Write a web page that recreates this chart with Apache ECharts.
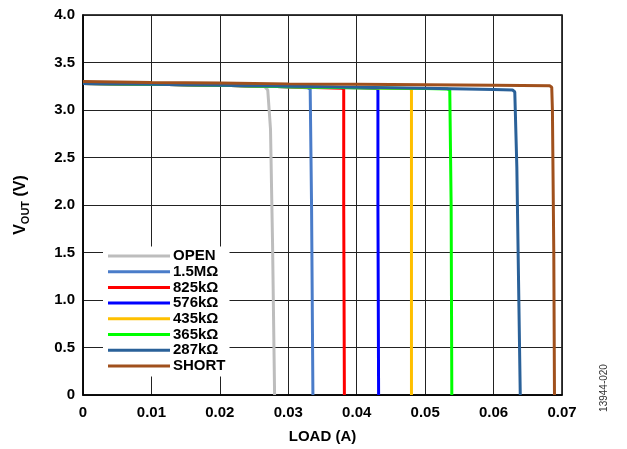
<!DOCTYPE html>
<html>
<head>
<meta charset="utf-8">
<script src="https://cdn.jsdelivr.net/npm/echarts@6/dist/echarts.min.js"></script>
<style>html,body{margin:0;padding:0;background:#fff;}#c{width:627px;height:449px;}</style>
</head>
<body>
<div id="c"></div>
<script>
const names = ['OPEN', '1.5MΩ', '825kΩ', '576kΩ', '435kΩ', '365kΩ', '287kΩ', 'SHORT'];
const colors = ['#bdbdbd', '#4a7cc9', '#ff0000', '#0000ff', '#ffc000', '#00ff00', '#2a6199', '#a0501c'];

const openX = [0, 0.01, 0.02, 0.0255, 0.0265, 0.0270, 0.0274, 0.0277, 0.0280];
const openY = [3.28, 3.27, 3.26, 3.255, 3.25, 3.21, 2.8, 1.6, 0];
const r1500X = [0, 0.01, 0.02, 0.03, 0.0328, 0.0332, 0.0334, 0.0336];
const r1500Y = [3.28, 3.27, 3.26, 3.245, 3.235, 3.22, 2.0, 0];
const r825X = [0, 0.01, 0.02, 0.03, 0.0378, 0.0381, 0.0381, 0.0382];
const r825Y = [3.28, 3.27, 3.26, 3.245, 3.23, 3.22, 2.0, 0];
const r576X = [0, 0.01, 0.02, 0.03, 0.04, 0.0428, 0.0431, 0.0431, 0.0432];
const r576Y = [3.28, 3.27, 3.26, 3.245, 3.235, 3.225, 3.22, 2.0, 0];
const r435X = [0, 0.01, 0.02, 0.03, 0.04, 0.0477, 0.0480, 0.0480, 0.0480];
const r435Y = [3.28, 3.27, 3.26, 3.245, 3.235, 3.225, 3.22, 2.0, 0];
const r365X = [0, 0.01, 0.02, 0.03, 0.04, 0.05, 0.0533, 0.0536, 0.0538, 0.0539];
const r365Y = [3.28, 3.27, 3.26, 3.245, 3.235, 3.225, 3.22, 3.21, 2.0, 0];
const r287X = [0, 0.01, 0.02, 0.03, 0.04, 0.05, 0.06, 0.0628, 0.0631, 0.0634, 0.0639];
const r287Y = [3.28, 3.27, 3.26, 3.25, 3.24, 3.23, 3.215, 3.21, 3.19, 2.4, 0];
const shortX = [0, 0.01, 0.02, 0.03, 0.04, 0.05, 0.06, 0.0682, 0.0685, 0.0686, 0.0688, 0.0689];
const shortY = [3.30, 3.29, 3.285, 3.275, 3.27, 3.265, 3.26, 3.255, 3.24, 3.0, 1.5, 0];

const xs = [openX, r1500X, r825X, r576X, r435X, r365X, r287X, shortX];
const ys = [openY, r1500Y, r825Y, r576Y, r435Y, r365Y, r287Y, shortY];

const series = names.map((n, i) => ({
  name: n,
  type: 'line',
  showSymbol: false,
  symbol: 'none',
  smooth: false,
  lineStyle: { color: colors[i], width: 3 },
  itemStyle: { color: colors[i] },
  data: xs[i].map((x, j) => [x, ys[i][j]]),
  z: 3 + i
}));

const chart = echarts.init(document.getElementById('c'), null, { renderer: 'canvas' });
const font = 'Arial, "Liberation Sans", Helvetica, sans-serif';
chart.setOption({
  animation: false,
  backgroundColor: '#fff',
  grid: { left: 83, right: 65, top: 15, bottom: 53, show: true, borderColor: '#000', borderWidth: 1.5, backgroundColor: 'transparent' },
  legend: {
    orient: 'vertical',
    left: 103,
    top: 246.5,
    data: names,
    icon: 'rect',
    itemWidth: 62,
    itemHeight: 3,
    itemGap: 0.7,
    backgroundColor: '#fff',
    padding: [2, 4, 3, 5],
    textStyle: { fontFamily: font, fontWeight: 'bold', fontSize: 15, color: '#000', lineHeight: 15, padding: [0, 0, 0, -2] }
  },
  xAxis: {
    type: 'value',
    min: 0, max: 0.07, interval: 0.01,
    name: 'LOAD (A)',
    nameLocation: 'middle',
    nameGap: 34,
    nameTextStyle: { fontFamily: font, fontWeight: 'bold', fontSize: 15, color: '#000' },
    axisLine: { show: true, lineStyle: { color: '#000', width: 1.5 } },
    axisTick: { show: false },
    axisLabel: { fontFamily: font, fontWeight: 'bold', fontSize: 15, color: '#000', margin: 10,
      formatter: v => v === 0 ? '0' : v.toFixed(2) },
    splitLine: { show: true, lineStyle: { color: '#222', width: 1 } }
  },
  yAxis: {
    type: 'value',
    min: 0, max: 4, interval: 0.5,
    name: '{v|V}{s|OUT}{v| (V)}',
    nameLocation: 'middle',
    nameGap: 52,
    nameRotate: 90,
    nameTextStyle: {
      fontFamily: font, fontWeight: 'bold', fontSize: 15, color: '#000',
      rich: {
        v: { fontFamily: font, fontWeight: 'bold', fontSize: 16, color: '#000', lineHeight: 20, verticalAlign: 'middle' },
        s: { fontFamily: font, fontWeight: 'bold', fontSize: 11, color: '#000', lineHeight: 10, verticalAlign: 'bottom' }
      }
    },
    axisLine: { show: true, lineStyle: { color: '#000', width: 1.5 } },
    axisTick: { show: false },
    axisLabel: { fontFamily: font, fontWeight: 'bold', fontSize: 15, color: '#000', margin: 8,
      formatter: v => v === 0 ? '0' : v.toFixed(1) },
    splitLine: { show: true, lineStyle: { color: '#222', width: 1 } }
  },
  graphic: [{
    type: 'text',
    x: 604, y: 388,
    rotation: Math.PI / 2,
    style: { text: '13944-020', fontFamily: font, fontSize: 10, fill: '#333', textAlign: 'center', textVerticalAlign: 'middle' }
  }],
  series: series
});
</script>
</body>
</html>
